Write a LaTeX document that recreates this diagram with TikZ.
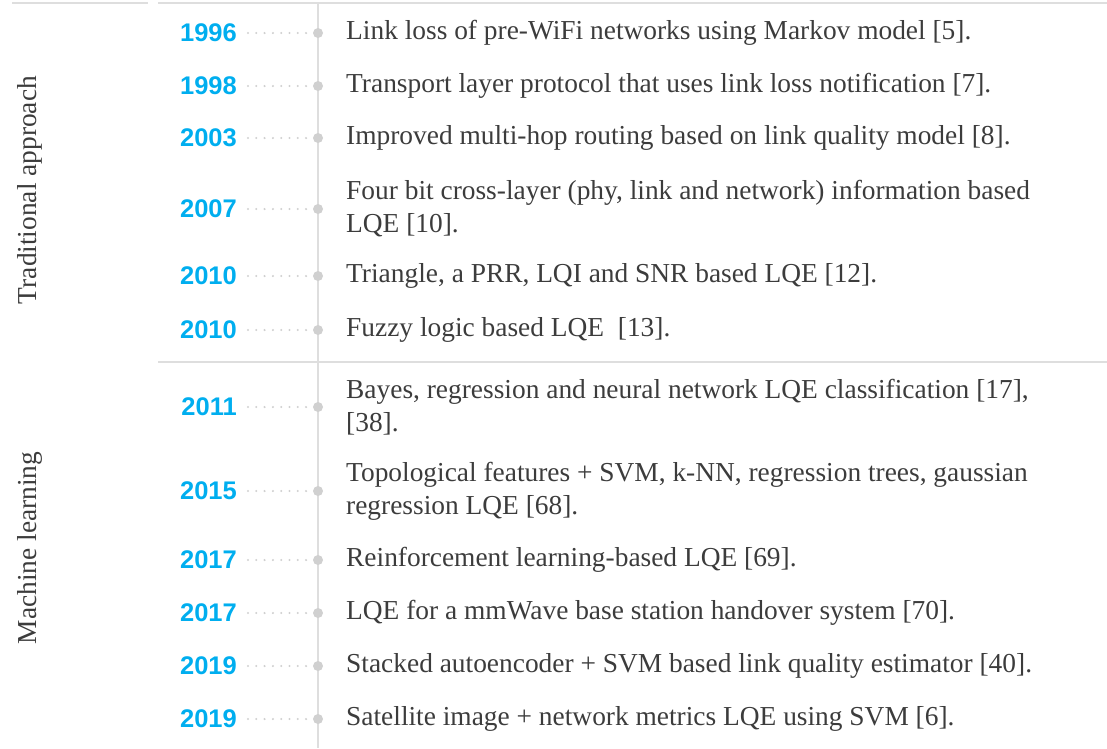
\documentclass[tikz,border=0pt]{standalone}
\usepackage{fontspec}
\setmainfont{Liberation Serif}
\newfontfamily\yearfont{Liberation Sans}
\definecolor{yearblue}{RGB}{0,174,239}
\definecolor{rulegray}{RGB}{222,222,222}
\definecolor{dotgray}{RGB}{208,208,208}
\definecolor{txtgray}{RGB}{60,60,60}
\begin{document}
\begin{tikzpicture}[x=1pt,y=-1pt,
  yearnode/.style={anchor=east,inner sep=0pt,font=\yearfont\bfseries\fontsize{25.5}{30}\selectfont,text=yearblue},
  dotnode/.style={circle,fill=dotgray,inner sep=0pt,minimum size=10pt},
  descnode/.style={anchor=west,inner sep=0pt,align=left,font=\fontsize{27.4}{33}\selectfont,text=txtgray},
  sidenode/.style={rotate=90,inner sep=0pt,font=\fontsize{27.4}{33}\selectfont,text=txtgray},
  rule/.style={draw=rulegray,line width=2.5pt},
  axis/.style={draw=rulegray,line width=1.5pt},
  leader/.style={draw=dotgray,line width=2.3pt,line cap=round,dash pattern=on 0pt off 8.3pt,shorten <=11pt,shorten >=7pt}
]
\useasboundingbox (0,0) rectangle (1107,748);
% frame lines
\coordinate (tl1) at (12,3);
\coordinate (tl2) at (148,3);
\coordinate (tr1) at (158,3);
\coordinate (tr2) at (1107,3);
\coordinate (ml1) at (158,362);
\coordinate (ml2) at (1107,362);
\coordinate (vtop) at (318,3);
\coordinate (vbot) at (318,748);
\draw[rule] (tl1) -- (tl2);
\draw[rule] (tr1) -- (tr2);
\draw[rule] (ml1) -- (ml2);
\draw[axis] (vtop) -- (vbot);
% side labels
\node[sidenode] (trad) at (30,190) {Traditional approach};
\node[sidenode] (ml) at (30,548) {Machine learning};
% rows
\foreach \n/\yy/\yr/\txt in {
 a/33/1996/{Link loss of pre-WiFi networks using Markov model [5].},
 b/86/1998/{Transport layer protocol that uses link loss notification [7].},
 c/138/2003/{Improved multi-hop routing based on link quality model [8].},
 d/209/2007/{Four bit cross-layer (phy, link and network) information based\\LQE [10].},
 e/276/2010/{Triangle, a PRR, LQI and SNR based LQE [12].},
 f/330/2010/{Fuzzy logic based LQE \ [13].},
 g/407/2011/{Bayes, regression and neural network LQE classification [17],\\{}[38].},
 h/491/2015/{Topological features + SVM, k-NN, regression trees, gaussian\\regression LQE [68].},
 i/560/2017/{Reinforcement learning-based LQE [69].},
 j/613/2017/{LQE for a mmWave base station handover system [70].},
 k/666/2019/{Stacked autoencoder + SVM based link quality estimator [40].},
 l/719/2019/{Satellite image + network metrics LQE using SVM [6].}}{
  \node[yearnode] (y\n) at (237,\yy) {\yr};
  \node[dotnode] (p\n) at (318,\yy) {};
  \node[descnode] (t\n) at (346,\yy) {\txt};
  \draw[leader] (y\n.east) -- (p\n.center);
}
\end{tikzpicture}
\end{document}
